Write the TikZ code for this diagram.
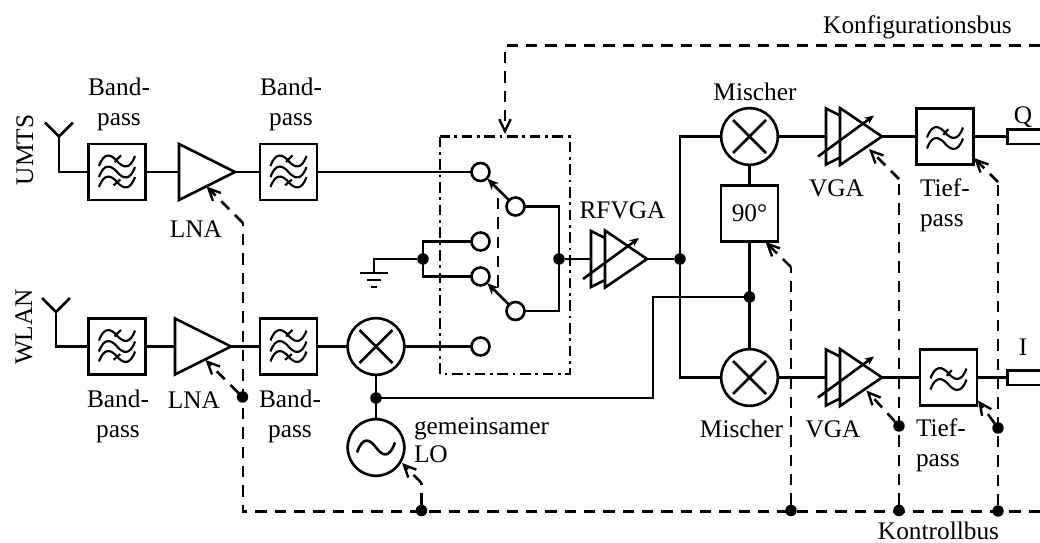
\documentclass[tikz,border=0pt]{standalone}
\usepackage{fontspec}
\setmainfont{Liberation Serif}
\usetikzlibrary{arrows.meta,shapes.geometric,calc}
\tikzset{
  wire/.style={line width=1.95pt,line cap=butt},
  thin wave/.style={line width=1.6pt},
  ctrl/.style={line width=1.9pt,dash pattern=on 8.5pt off 6pt},
  ctrlarrow/.style={ctrl,-{Straight Barb[length=9pt,width=8.5pt,line width=1.8pt]}},
  dashdotbox/.style={line width=1.8pt,dash pattern=on 8pt off 3.5pt on 2pt off 3.5pt},
  swarrow/.style={wire,-{Stealth[length=8.5pt,width=7.5pt]}},
  filterbox/.style={draw,line width=1.95pt,rectangle,minimum width=42.5pt,minimum height=42pt,inner sep=0pt,outer sep=0pt},
  roundel/.style={draw,line width=1.95pt,circle,minimum size=42.5pt,inner sep=0pt,outer sep=0pt},
  port/.style={draw,line width=1.95pt,circle,minimum size=13.5pt,inner sep=0pt,outer sep=0pt},
  dot/.style={fill,circle,minimum size=8.6pt,inner sep=0pt,outer sep=0pt},
  amp/.style={draw,line width=1.95pt,isosceles triangle,isosceles triangle stretches,shape border rotate=0,minimum width=42pt,minimum height=42pt,inner sep=0pt,outer sep=0pt,anchor=apex},
  vfront/.style={amp,minimum width=42.75pt,minimum height=31.5pt},
  lbl/.style={font=\fontsize{19}{22.3}\selectfont,inner sep=0pt,outer sep=0pt},
}
\newcommand{\onewave}[1]{\draw[thin wave,shift={(0,#1)}] (-18,5) .. controls (-13,-9) and (-6,-7) .. (0,0) .. controls (6,7) and (13,9) .. (18,-5);}
\newcommand{\bandsym}[1]{\begin{scope}[shift={(#1.center)}]
  \onewave{-11}\onewave{0}\onewave{10}
  \draw[thin wave] (-2.4,-10) -- (4,-16.7);
  \draw[thin wave] (-3.4,13.3) -- (3.3,7.6);
\end{scope}}
\newcommand{\lowsym}[1]{\begin{scope}[shift={(#1.center)}]
  \onewave{-4}\onewave{7}
  \draw[thin wave] (-1.7,-1.7) -- (3.3,-7.3);
\end{scope}}
\newcommand{\crosssym}[1]{\begin{scope}[shift={(#1.center)}]
  \draw[wire] (-16.5,-16.5) -- (16.5,16.5) (-16.5,16.5) -- (16.5,-16.5);
\end{scope}}
\newcommand{\antenna}[2]{\begin{scope}[shift={(#1.center)}]
  \draw[wire] (-14,-14) -- (0,0) -- (14,-14);
\end{scope}}
\newcommand{\vga}[3]{% name, apex x, y
  \node[vfront] (#1) at (#2,#3) {};
  \begin{scope}[shift={(#2,#3)}]
    \coordinate (#1-in) at (-56,0);
    \draw[wire,line join=miter] (-42,-21) -- (-56,-28) -- (-56,28) -- (-42,21);
    \draw[wire,-{Stealth[length=7pt,width=6pt]}] (-64,20) -- (-8,-21);
  \end{scope}}
\begin{document}
\begin{tikzpicture}[x=0.75pt,y=-0.75pt]
\useasboundingbox (0,0) rectangle (1040,543);
% antennas
\coordinate (antU) at (59,136.5);
\coordinate (antW) at (56,312);
\antenna{antU}{}
\antenna{antW}{}
% UMTS chain
\node[filterbox] (bp1) at (117,172) {};
\node[amp] (lna1) at (235,172) {};
\node[filterbox] (bp2) at (288.5,172) {};
\bandsym{bp1}\bandsym{bp2}
% WLAN chain
\node[filterbox] (bp3) at (117,346.5) {};
\node[amp] (lna2) at (231,346.5) {};
\node[filterbox] (bp4) at (288.5,346.5) {};
\bandsym{bp3}\bandsym{bp4}
\node[roundel] (mixW) at (376,346.5) {};
\crosssym{mixW}
\node[roundel] (lo) at (376,447.5) {};
\draw[wire] ($(lo.center)+(-19,5)$) .. controls ($(lo.center)+(-13,-12)$) and ($(lo.center)+(-6,-8)$) .. (lo.center) .. controls ($(lo.center)+(6,8)$) and ($(lo.center)+(13,12)$) .. ($(lo.center)+(19,-5)$);
\node[dot] (loDot) at (376,398) {};
% switch
\draw[dashdotbox] (440,136.5) rectangle (570,374);
\node[port] (s1) at (480.5,172) {};
\node[port] (s2) at (515.5,206.5) {};
\node[port] (s3) at (480.5,241.5) {};
\node[port] (s4) at (480.5,276.5) {};
\node[port] (s5) at (515.5,311) {};
\node[port] (s6) at (480.5,346.5) {};
\node[dot] (gndDot) at (423,259) {};
\node[dot] (swDot) at (559,259) {};
\coordinate (g0) at (374,259);
\coordinate (g1) at (374,273);
\draw[wire] (gndDot) -- (g0) -- (g1);
\draw[wire] (360,273) -- (388,273) (367,280) -- (381,280) (371,287) -- (377,287);
\draw[wire] (gndDot.center) |- (s3);
\draw[wire] (gndDot.center) |- (s4);
\draw[wire] (s2) -| (swDot.center);
\draw[wire] (s5) -| (swDot.center);
\draw[swarrow,shorten >=0.5pt] (s2) -- (s1);
\draw[swarrow,shorten >=0.5pt] (s5) -- (s4);
% RFVGA and IQ
\vga{rfvga}{647}{259}
\node[dot] (iqDot) at (680,259) {};
\node[roundel] (mixQ) at (749.5,136.5) {};
\node[roundel] (mixI) at (749.5,377.5) {};
\crosssym{mixQ}\crosssym{mixI}
\node[filterbox] (ph) at (749.5,213.5) {\fontsize{19}{22}\selectfont 90°};
\node[dot] (phDot) at (749.5,297) {};
\vga{vgaQ}{882}{136.5}
\vga{vgaI}{882}{377.5}
\node[filterbox] (lpQ) at (945,136.5) {};
\node[filterbox] (lpI) at (948.5,377.5) {};
\lowsym{lpQ}\lowsym{lpI}
% signal wires
\draw[wire] (antU.center) |- (bp1);
\draw[wire] (bp1) -- (lna1.west |- bp1);
\draw[wire] (lna1.apex) -- (bp2);
\draw[wire] (bp2) -- (s1);
\draw[wire] (antW.center) |- (bp3);
\draw[wire] (bp3) -- (lna2.west |- bp3);
\draw[wire] (lna2.apex) -- (bp4);
\draw[wire] (bp4) -- (mixW);
\draw[wire] (mixW) -- (s6);
\draw[wire] (mixW) -- (lo);
\draw[wire] (swDot) -- (rfvga-in);
\draw[wire] (rfvga.apex) -- (iqDot);
\draw[wire] (mixQ) -| (iqDot.center);
\draw[wire] (mixI) -| (iqDot.center);
\draw[wire] (mixQ) -- (ph);
\draw[wire] (ph) -- (mixI);
\draw[wire] (loDot.center) -- (653,398) -- (653,297) -- (phDot.center);
\draw[wire] (mixQ) -- (vgaQ-in);
\draw[wire] (mixI) -- (vgaI-in);
\draw[wire] (vgaQ.apex) -- (lpQ);
\draw[wire] (vgaI.apex) -- (lpI);
% output ports
\coordinate (qT) at (1041,129.5);
\coordinate (qB) at (1041,144);
\coordinate (iT) at (1041,370.5);
\coordinate (iB) at (1041,385);
\coordinate (qL) at (1007.5,136.5);
\coordinate (iL) at (1007.5,377.5);
\draw[wire] (qT) -- (qL |- qT) -- (qL |- qB) -- (qB);
\draw[wire] (iT) -- (iL |- iT) -- (iL |- iB) -- (iB);
\draw[wire] (lpQ) -- (qL);
\draw[wire] (lpI) -- (iL);
% configuration bus
\coordinate (cfgEnd) at (1040,45.5);
\coordinate (cfgCorner) at (505,45.5);
\coordinate (swTop) at (505,134);
\draw[ctrlarrow] (cfgEnd) -- (cfgCorner) -- (swTop);
\coordinate (swInA) at (498,198);
\coordinate (swInB) at (498,288);
\draw[ctrl] (swInA) -- (swInB);
% control bus
\coordinate (busL) at (243,511.5);
\coordinate (busR) at (1040,511.5);
\node[dot] (bLO) at (421.5,510.5) {};
\node[dot] (bPh) at (791,510.5) {};
\node[dot] (bV) at (899,510.5) {};
\node[dot] (bT) at (998,511) {};
\node[dot] (dLna) at (242.5,397) {};
\node[dot] (dV) at (899,426) {};
\node[dot] (dT) at (998,428) {};
\draw[ctrl] (busR) -- (busL) -- (243,223);
\draw[ctrlarrow] (243,223) -- (206.5,186.5);
\draw[ctrlarrow] (dLna) -- (205.5,360);
\draw[ctrl] (bLO) -- (421.5,483);
\draw[ctrlarrow] (421.5,483) -- (402,463);
\draw[ctrl] (bPh) -- (791,267);
\draw[ctrlarrow] (791,267) -- (765.5,242);
\draw[ctrl] (bV) -- (899,179);
\draw[ctrlarrow] (899,179) -- (869,149);
\draw[ctrlarrow] (dV) -- (866.5,390.5);
\draw[ctrl] (bT) -- (998,182);
\draw[ctrlarrow] (998,182) -- (974,158);
\draw[ctrlarrow] (dT) -- (978,400.5);
% labels
\node[lbl,anchor=base,rotate=90] (tU) at (33,150) {UMTS};
\node[lbl,anchor=base,rotate=90] (tW) at (32,327) {WLAN};
\node[lbl,anchor=base,align=center] (t1) at (119,125.7) {Band-\\pass};
\node[lbl,anchor=base,align=center] (t2) at (291,125.7) {Band-\\pass};
\node[lbl,anchor=base] (t3) at (196,237) {LNA};
\node[lbl,anchor=base,align=center] (t4) at (118,437) {Band-\\pass};
\node[lbl,anchor=base] (t5) at (194,408) {LNA};
\node[lbl,anchor=base,align=center] (t6) at (290,437) {Band-\\pass};
\node[lbl,anchor=base west,align=left,font=\fontsize{19}{20.8}\selectfont] (t7) at (414,462.7) {gemeinsamer\\LO};
\node[lbl,anchor=base] (t8) at (622.5,218) {RFVGA};
\node[lbl,anchor=base] (t9) at (755,100.5) {Mischer};
\node[lbl,anchor=base] (t10) at (836.5,196.5) {VGA};
\node[lbl,anchor=base west,align=left] (t11) at (920,226.5) {Tief-\\pass};
\node[lbl,anchor=base] (t12) at (1023,123) {Q};
\node[lbl,anchor=base] (t13) at (741.5,437.5) {Mischer};
\node[lbl,anchor=base] (t14) at (833,437.5) {VGA};
\node[lbl,anchor=base west,align=left] (t15) at (916,466) {Tief-\\pass};
\node[lbl,anchor=base] (t16) at (1023,355.5) {I};
\node[lbl,anchor=base] (t17) at (938.5,539) {Kontrollbus};
\node[lbl,anchor=base] (t18) at (917.5,33) {Konfigurationsbus};
\end{tikzpicture}
\end{document}
